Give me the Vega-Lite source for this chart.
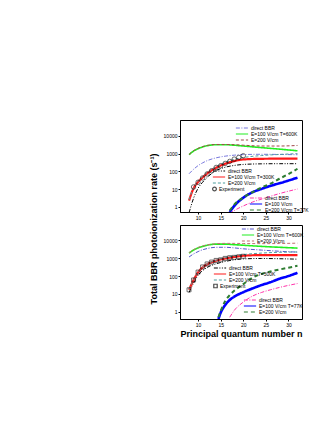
{
  "$schema": "https://vega.github.io/schema/vega-lite/v6.json",
  "padding": {"left": 149, "top": 119, "right": 0, "bottom": 0},
  "title": {"text": "Total BBR photoionization rate (s⁻¹)", "orient": "left", "anchor": "middle", "fontSize": 9, "fontWeight": "bold", "font": "Liberation Sans", "offset": 4, "color": "black"},
  "config": {
    "font": "Liberation Sans",
    "view": {"stroke": "black", "strokeWidth": 1},
    "axis": {"labelFontSize": 5, "tickSize": 2, "labelPadding": 1, "domainColor": "black", "tickColor": "black", "labelColor": "black", "grid": false, "titleFontSize": 9, "titleFontWeight": "bold", "titleColor": "black", "titlePadding": 2},
    "legend": {"labelFontSize": 5, "rowPadding": 0, "padding": 0, "symbolSize": 150, "clipHeight": 6, "labelOffset": 2, "labelLimit": 200, "labelColor": "black", "symbolStrokeWidth": 1.2}
  },
  "datasets": {
    "curves": [
      {"panel": "a", "grp": "600K", "label": "direct BBR", "n": 8, "rate": 73},
      {"panel": "a", "grp": "600K", "label": "direct BBR", "n": 9, "rate": 130},
      {"panel": "a", "grp": "600K", "label": "direct BBR", "n": 10, "rate": 210},
      {"panel": "a", "grp": "600K", "label": "direct BBR", "n": 11, "rate": 300},
      {"panel": "a", "grp": "600K", "label": "direct BBR", "n": 12, "rate": 400},
      {"panel": "a", "grp": "600K", "label": "direct BBR", "n": 14, "rate": 580},
      {"panel": "a", "grp": "600K", "label": "direct BBR", "n": 16, "rate": 720},
      {"panel": "a", "grp": "600K", "label": "direct BBR", "n": 18, "rate": 820},
      {"panel": "a", "grp": "600K", "label": "direct BBR", "n": 20, "rate": 880},
      {"panel": "a", "grp": "600K", "label": "direct BBR", "n": 24, "rate": 920},
      {"panel": "a", "grp": "600K", "label": "direct BBR", "n": 28, "rate": 900},
      {"panel": "a", "grp": "600K", "label": "direct BBR", "n": 32, "rate": 870},
      {"panel": "a", "grp": "600K", "label": "E=100 V/cm T=600K", "n": 8, "rate": 870},
      {"panel": "a", "grp": "600K", "label": "E=100 V/cm T=600K", "n": 9, "rate": 1400},
      {"panel": "a", "grp": "600K", "label": "E=100 V/cm T=600K", "n": 10, "rate": 1900},
      {"panel": "a", "grp": "600K", "label": "E=100 V/cm T=600K", "n": 11, "rate": 2400},
      {"panel": "a", "grp": "600K", "label": "E=100 V/cm T=600K", "n": 12, "rate": 2800},
      {"panel": "a", "grp": "600K", "label": "E=100 V/cm T=600K", "n": 14, "rate": 3200},
      {"panel": "a", "grp": "600K", "label": "E=100 V/cm T=600K", "n": 16, "rate": 3200},
      {"panel": "a", "grp": "600K", "label": "E=100 V/cm T=600K", "n": 18, "rate": 3000},
      {"panel": "a", "grp": "600K", "label": "E=100 V/cm T=600K", "n": 20, "rate": 2700},
      {"panel": "a", "grp": "600K", "label": "E=100 V/cm T=600K", "n": 24, "rate": 2200},
      {"panel": "a", "grp": "600K", "label": "E=100 V/cm T=600K", "n": 28, "rate": 1800},
      {"panel": "a", "grp": "600K", "label": "E=100 V/cm T=600K", "n": 32, "rate": 1450},
      {"panel": "a", "grp": "600K", "label": "E=200 V/cm", "n": 8, "rate": 900},
      {"panel": "a", "grp": "600K", "label": "E=200 V/cm", "n": 9, "rate": 1450},
      {"panel": "a", "grp": "600K", "label": "E=200 V/cm", "n": 10, "rate": 2000},
      {"panel": "a", "grp": "600K", "label": "E=200 V/cm", "n": 11, "rate": 2500},
      {"panel": "a", "grp": "600K", "label": "E=200 V/cm", "n": 12, "rate": 2900},
      {"panel": "a", "grp": "600K", "label": "E=200 V/cm", "n": 14, "rate": 3300},
      {"panel": "a", "grp": "600K", "label": "E=200 V/cm", "n": 16, "rate": 3300},
      {"panel": "a", "grp": "600K", "label": "E=200 V/cm", "n": 18, "rate": 3200},
      {"panel": "a", "grp": "600K", "label": "E=200 V/cm", "n": 20, "rate": 3000},
      {"panel": "a", "grp": "600K", "label": "E=200 V/cm", "n": 24, "rate": 2700},
      {"panel": "a", "grp": "600K", "label": "E=200 V/cm", "n": 28, "rate": 2700},
      {"panel": "a", "grp": "600K", "label": "E=200 V/cm", "n": 32, "rate": 2900},

      {"panel": "a", "grp": "300K", "label": "direct BBR", "n": 8, "rate": 0.45},
      {"panel": "a", "grp": "300K", "label": "direct BBR", "n": 9, "rate": 3},
      {"panel": "a", "grp": "300K", "label": "direct BBR", "n": 10, "rate": 11},
      {"panel": "a", "grp": "300K", "label": "direct BBR", "n": 11, "rate": 24},
      {"panel": "a", "grp": "300K", "label": "direct BBR", "n": 12, "rate": 45},
      {"panel": "a", "grp": "300K", "label": "direct BBR", "n": 14, "rate": 110},
      {"panel": "a", "grp": "300K", "label": "direct BBR", "n": 16, "rate": 170},
      {"panel": "a", "grp": "300K", "label": "direct BBR", "n": 18, "rate": 215},
      {"panel": "a", "grp": "300K", "label": "direct BBR", "n": 20, "rate": 245},
      {"panel": "a", "grp": "300K", "label": "direct BBR", "n": 24, "rate": 265},
      {"panel": "a", "grp": "300K", "label": "direct BBR", "n": 28, "rate": 270},
      {"panel": "a", "grp": "300K", "label": "direct BBR", "n": 32, "rate": 270},
      {"panel": "a", "grp": "300K", "label": "E=100 V/cm T=300K", "n": 8, "rate": 2.2},
      {"panel": "a", "grp": "300K", "label": "E=100 V/cm T=300K", "n": 9, "rate": 11},
      {"panel": "a", "grp": "300K", "label": "E=100 V/cm T=300K", "n": 10, "rate": 25},
      {"panel": "a", "grp": "300K", "label": "E=100 V/cm T=300K", "n": 11, "rate": 45},
      {"panel": "a", "grp": "300K", "label": "E=100 V/cm T=300K", "n": 12, "rate": 75},
      {"panel": "a", "grp": "300K", "label": "E=100 V/cm T=300K", "n": 14, "rate": 160},
      {"panel": "a", "grp": "300K", "label": "E=100 V/cm T=300K", "n": 16, "rate": 270},
      {"panel": "a", "grp": "300K", "label": "E=100 V/cm T=300K", "n": 18, "rate": 380},
      {"panel": "a", "grp": "300K", "label": "E=100 V/cm T=300K", "n": 20, "rate": 470},
      {"panel": "a", "grp": "300K", "label": "E=100 V/cm T=300K", "n": 24, "rate": 510},
      {"panel": "a", "grp": "300K", "label": "E=100 V/cm T=300K", "n": 28, "rate": 520},
      {"panel": "a", "grp": "300K", "label": "E=100 V/cm T=300K", "n": 32, "rate": 520},
      {"panel": "a", "grp": "300K", "label": "E=200 V/cm", "n": 8, "rate": 2.5},
      {"panel": "a", "grp": "300K", "label": "E=200 V/cm", "n": 9, "rate": 12},
      {"panel": "a", "grp": "300K", "label": "E=200 V/cm", "n": 10, "rate": 27},
      {"panel": "a", "grp": "300K", "label": "E=200 V/cm", "n": 11, "rate": 50},
      {"panel": "a", "grp": "300K", "label": "E=200 V/cm", "n": 12, "rate": 85},
      {"panel": "a", "grp": "300K", "label": "E=200 V/cm", "n": 14, "rate": 180},
      {"panel": "a", "grp": "300K", "label": "E=200 V/cm", "n": 16, "rate": 320},
      {"panel": "a", "grp": "300K", "label": "E=200 V/cm", "n": 18, "rate": 470},
      {"panel": "a", "grp": "300K", "label": "E=200 V/cm", "n": 20, "rate": 600},
      {"panel": "a", "grp": "300K", "label": "E=200 V/cm", "n": 24, "rate": 780},
      {"panel": "a", "grp": "300K", "label": "E=200 V/cm", "n": 28, "rate": 900},
      {"panel": "a", "grp": "300K", "label": "E=200 V/cm", "n": 32, "rate": 1000},

      {"panel": "a", "grp": "77K", "label": "direct BBR", "n": 17, "rate": 0.4},
      {"panel": "a", "grp": "77K", "label": "direct BBR", "n": 18, "rate": 0.6},
      {"panel": "a", "grp": "77K", "label": "direct BBR", "n": 20, "rate": 1.1},
      {"panel": "a", "grp": "77K", "label": "direct BBR", "n": 22, "rate": 1.8},
      {"panel": "a", "grp": "77K", "label": "direct BBR", "n": 25, "rate": 3.2},
      {"panel": "a", "grp": "77K", "label": "direct BBR", "n": 28, "rate": 5.5},
      {"panel": "a", "grp": "77K", "label": "direct BBR", "n": 32, "rate": 10},
      {"panel": "a", "grp": "77K", "label": "E=100 V/cm", "n": 17, "rate": 0.5},
      {"panel": "a", "grp": "77K", "label": "E=100 V/cm", "n": 18, "rate": 1.1},
      {"panel": "a", "grp": "77K", "label": "E=100 V/cm", "n": 20, "rate": 3.2},
      {"panel": "a", "grp": "77K", "label": "E=100 V/cm", "n": 22, "rate": 6.5},
      {"panel": "a", "grp": "77K", "label": "E=100 V/cm", "n": 24, "rate": 10},
      {"panel": "a", "grp": "77K", "label": "E=100 V/cm", "n": 26, "rate": 15},
      {"panel": "a", "grp": "77K", "label": "E=100 V/cm", "n": 28, "rate": 21},
      {"panel": "a", "grp": "77K", "label": "E=100 V/cm", "n": 30, "rate": 30},
      {"panel": "a", "grp": "77K", "label": "E=100 V/cm", "n": 32, "rate": 44},
      {"panel": "a", "grp": "77K", "label": "E=200 V/cm T=77K", "n": 17, "rate": 0.6},
      {"panel": "a", "grp": "77K", "label": "E=200 V/cm T=77K", "n": 18, "rate": 1.3},
      {"panel": "a", "grp": "77K", "label": "E=200 V/cm T=77K", "n": 20, "rate": 3.3},
      {"panel": "a", "grp": "77K", "label": "E=200 V/cm T=77K", "n": 22, "rate": 6.5},
      {"panel": "a", "grp": "77K", "label": "E=200 V/cm T=77K", "n": 24, "rate": 12},
      {"panel": "a", "grp": "77K", "label": "E=200 V/cm T=77K", "n": 26, "rate": 20},
      {"panel": "a", "grp": "77K", "label": "E=200 V/cm T=77K", "n": 28, "rate": 38},
      {"panel": "a", "grp": "77K", "label": "E=200 V/cm T=77K", "n": 30, "rate": 70},
      {"panel": "a", "grp": "77K", "label": "E=200 V/cm T=77K", "n": 32, "rate": 140},

      {"panel": "b", "grp": "600K", "label": "direct BBR", "n": 8, "rate": 1150},
      {"panel": "b", "grp": "600K", "label": "direct BBR", "n": 9, "rate": 1700},
      {"panel": "b", "grp": "600K", "label": "direct BBR", "n": 10, "rate": 2300},
      {"panel": "b", "grp": "600K", "label": "direct BBR", "n": 11, "rate": 2900},
      {"panel": "b", "grp": "600K", "label": "direct BBR", "n": 12, "rate": 3400},
      {"panel": "b", "grp": "600K", "label": "direct BBR", "n": 14, "rate": 4000},
      {"panel": "b", "grp": "600K", "label": "direct BBR", "n": 16, "rate": 4000},
      {"panel": "b", "grp": "600K", "label": "direct BBR", "n": 18, "rate": 3700},
      {"panel": "b", "grp": "600K", "label": "direct BBR", "n": 20, "rate": 3300},
      {"panel": "b", "grp": "600K", "label": "direct BBR", "n": 24, "rate": 2800},
      {"panel": "b", "grp": "600K", "label": "direct BBR", "n": 28, "rate": 2400},
      {"panel": "b", "grp": "600K", "label": "direct BBR", "n": 32, "rate": 2150},
      {"panel": "b", "grp": "600K", "label": "E=100 V/cm T=600K", "n": 8, "rate": 1900},
      {"panel": "b", "grp": "600K", "label": "E=100 V/cm T=600K", "n": 9, "rate": 2800},
      {"panel": "b", "grp": "600K", "label": "E=100 V/cm T=600K", "n": 10, "rate": 3700},
      {"panel": "b", "grp": "600K", "label": "E=100 V/cm T=600K", "n": 11, "rate": 4500},
      {"panel": "b", "grp": "600K", "label": "E=100 V/cm T=600K", "n": 12, "rate": 5200},
      {"panel": "b", "grp": "600K", "label": "E=100 V/cm T=600K", "n": 14, "rate": 6000},
      {"panel": "b", "grp": "600K", "label": "E=100 V/cm T=600K", "n": 16, "rate": 6000},
      {"panel": "b", "grp": "600K", "label": "E=100 V/cm T=600K", "n": 18, "rate": 5600},
      {"panel": "b", "grp": "600K", "label": "E=100 V/cm T=600K", "n": 20, "rate": 5200},
      {"panel": "b", "grp": "600K", "label": "E=100 V/cm T=600K", "n": 24, "rate": 4500},
      {"panel": "b", "grp": "600K", "label": "E=100 V/cm T=600K", "n": 28, "rate": 4000},
      {"panel": "b", "grp": "600K", "label": "E=100 V/cm T=600K", "n": 32, "rate": 3600},
      {"panel": "b", "grp": "600K", "label": "E=200 V/cm", "n": 8, "rate": 2000},
      {"panel": "b", "grp": "600K", "label": "E=200 V/cm", "n": 9, "rate": 2900},
      {"panel": "b", "grp": "600K", "label": "E=200 V/cm", "n": 10, "rate": 3900},
      {"panel": "b", "grp": "600K", "label": "E=200 V/cm", "n": 11, "rate": 4700},
      {"panel": "b", "grp": "600K", "label": "E=200 V/cm", "n": 12, "rate": 5400},
      {"panel": "b", "grp": "600K", "label": "E=200 V/cm", "n": 14, "rate": 6300},
      {"panel": "b", "grp": "600K", "label": "E=200 V/cm", "n": 16, "rate": 6600},
      {"panel": "b", "grp": "600K", "label": "E=200 V/cm", "n": 18, "rate": 6600},
      {"panel": "b", "grp": "600K", "label": "E=200 V/cm", "n": 20, "rate": 6500},
      {"panel": "b", "grp": "600K", "label": "E=200 V/cm", "n": 24, "rate": 6400},
      {"panel": "b", "grp": "600K", "label": "E=200 V/cm", "n": 28, "rate": 6500},
      {"panel": "b", "grp": "600K", "label": "E=200 V/cm", "n": 32, "rate": 6800},

      {"panel": "b", "grp": "300K", "label": "direct BBR", "n": 8, "rate": 12},
      {"panel": "b", "grp": "300K", "label": "direct BBR", "n": 9, "rate": 40},
      {"panel": "b", "grp": "300K", "label": "direct BBR", "n": 10, "rate": 110},
      {"panel": "b", "grp": "300K", "label": "direct BBR", "n": 11, "rate": 200},
      {"panel": "b", "grp": "300K", "label": "direct BBR", "n": 12, "rate": 300},
      {"panel": "b", "grp": "300K", "label": "direct BBR", "n": 14, "rate": 480},
      {"panel": "b", "grp": "300K", "label": "direct BBR", "n": 16, "rate": 650},
      {"panel": "b", "grp": "300K", "label": "direct BBR", "n": 18, "rate": 800},
      {"panel": "b", "grp": "300K", "label": "direct BBR", "n": 20, "rate": 900},
      {"panel": "b", "grp": "300K", "label": "direct BBR", "n": 24, "rate": 950},
      {"panel": "b", "grp": "300K", "label": "direct BBR", "n": 28, "rate": 920},
      {"panel": "b", "grp": "300K", "label": "direct BBR", "n": 32, "rate": 870},
      {"panel": "b", "grp": "300K", "label": "E=100 V/cm T=300K", "n": 8, "rate": 17},
      {"panel": "b", "grp": "300K", "label": "E=100 V/cm T=300K", "n": 9, "rate": 60},
      {"panel": "b", "grp": "300K", "label": "E=100 V/cm T=300K", "n": 10, "rate": 160},
      {"panel": "b", "grp": "300K", "label": "E=100 V/cm T=300K", "n": 11, "rate": 300},
      {"panel": "b", "grp": "300K", "label": "E=100 V/cm T=300K", "n": 12, "rate": 450},
      {"panel": "b", "grp": "300K", "label": "E=100 V/cm T=300K", "n": 14, "rate": 720},
      {"panel": "b", "grp": "300K", "label": "E=100 V/cm T=300K", "n": 16, "rate": 950},
      {"panel": "b", "grp": "300K", "label": "E=100 V/cm T=300K", "n": 18, "rate": 1150},
      {"panel": "b", "grp": "300K", "label": "E=100 V/cm T=300K", "n": 20, "rate": 1350},
      {"panel": "b", "grp": "300K", "label": "E=100 V/cm T=300K", "n": 24, "rate": 1470},
      {"panel": "b", "grp": "300K", "label": "E=100 V/cm T=300K", "n": 28, "rate": 1480},
      {"panel": "b", "grp": "300K", "label": "E=100 V/cm T=300K", "n": 32, "rate": 1480},
      {"panel": "b", "grp": "300K", "label": "E=200 V/cm", "n": 8, "rate": 18},
      {"panel": "b", "grp": "300K", "label": "E=200 V/cm", "n": 9, "rate": 62},
      {"panel": "b", "grp": "300K", "label": "E=200 V/cm", "n": 10, "rate": 165},
      {"panel": "b", "grp": "300K", "label": "E=200 V/cm", "n": 11, "rate": 310},
      {"panel": "b", "grp": "300K", "label": "E=200 V/cm", "n": 12, "rate": 470},
      {"panel": "b", "grp": "300K", "label": "E=200 V/cm", "n": 14, "rate": 760},
      {"panel": "b", "grp": "300K", "label": "E=200 V/cm", "n": 16, "rate": 1050},
      {"panel": "b", "grp": "300K", "label": "E=200 V/cm", "n": 18, "rate": 1300},
      {"panel": "b", "grp": "300K", "label": "E=200 V/cm", "n": 20, "rate": 1550},
      {"panel": "b", "grp": "300K", "label": "E=200 V/cm", "n": 24, "rate": 1900},
      {"panel": "b", "grp": "300K", "label": "E=200 V/cm", "n": 28, "rate": 2100},
      {"panel": "b", "grp": "300K", "label": "E=200 V/cm", "n": 32, "rate": 2200},

      {"panel": "b", "grp": "77K", "label": "direct BBR", "n": 17, "rate": 0.5},
      {"panel": "b", "grp": "77K", "label": "direct BBR", "n": 18, "rate": 1.2},
      {"panel": "b", "grp": "77K", "label": "direct BBR", "n": 20, "rate": 3.5},
      {"panel": "b", "grp": "77K", "label": "direct BBR", "n": 22, "rate": 7.5},
      {"panel": "b", "grp": "77K", "label": "direct BBR", "n": 24, "rate": 12},
      {"panel": "b", "grp": "77K", "label": "direct BBR", "n": 26, "rate": 17},
      {"panel": "b", "grp": "77K", "label": "direct BBR", "n": 28, "rate": 23},
      {"panel": "b", "grp": "77K", "label": "direct BBR", "n": 30, "rate": 30},
      {"panel": "b", "grp": "77K", "label": "direct BBR", "n": 32, "rate": 38},
      {"panel": "b", "grp": "77K", "label": "E=100 V/cm T=77K", "n": 14.5, "rate": 0.4},
      {"panel": "b", "grp": "77K", "label": "E=100 V/cm T=77K", "n": 15, "rate": 0.9},
      {"panel": "b", "grp": "77K", "label": "E=100 V/cm T=77K", "n": 16, "rate": 2.4},
      {"panel": "b", "grp": "77K", "label": "E=100 V/cm T=77K", "n": 17, "rate": 4.6},
      {"panel": "b", "grp": "77K", "label": "E=100 V/cm T=77K", "n": 18, "rate": 7},
      {"panel": "b", "grp": "77K", "label": "E=100 V/cm T=77K", "n": 20, "rate": 12.5},
      {"panel": "b", "grp": "77K", "label": "E=100 V/cm T=77K", "n": 22, "rate": 20},
      {"panel": "b", "grp": "77K", "label": "E=100 V/cm T=77K", "n": 24, "rate": 31},
      {"panel": "b", "grp": "77K", "label": "E=100 V/cm T=77K", "n": 26, "rate": 45},
      {"panel": "b", "grp": "77K", "label": "E=100 V/cm T=77K", "n": 28, "rate": 70},
      {"panel": "b", "grp": "77K", "label": "E=100 V/cm T=77K", "n": 30, "rate": 100},
      {"panel": "b", "grp": "77K", "label": "E=100 V/cm T=77K", "n": 32, "rate": 150},
      {"panel": "b", "grp": "77K", "label": "E=200 V/cm", "n": 14.5, "rate": 0.5},
      {"panel": "b", "grp": "77K", "label": "E=200 V/cm", "n": 15, "rate": 1.1},
      {"panel": "b", "grp": "77K", "label": "E=200 V/cm", "n": 16, "rate": 4},
      {"panel": "b", "grp": "77K", "label": "E=200 V/cm", "n": 17, "rate": 8.5},
      {"panel": "b", "grp": "77K", "label": "E=200 V/cm", "n": 18, "rate": 15},
      {"panel": "b", "grp": "77K", "label": "E=200 V/cm", "n": 20, "rate": 35},
      {"panel": "b", "grp": "77K", "label": "E=200 V/cm", "n": 22, "rate": 80},
      {"panel": "b", "grp": "77K", "label": "E=200 V/cm", "n": 24, "rate": 130},
      {"panel": "b", "grp": "77K", "label": "E=200 V/cm", "n": 26, "rate": 180},
      {"panel": "b", "grp": "77K", "label": "E=200 V/cm", "n": 28, "rate": 230},
      {"panel": "b", "grp": "77K", "label": "E=200 V/cm", "n": 30, "rate": 290},
      {"panel": "b", "grp": "77K", "label": "E=200 V/cm", "n": 32, "rate": 370}
    ],
    "exp": [
      {"panel": "a", "label": "Experiment", "n": 9, "rate": 13},
      {"panel": "a", "label": "Experiment", "n": 10, "rate": 24},
      {"panel": "a", "label": "Experiment", "n": 11, "rate": 42},
      {"panel": "a", "label": "Experiment", "n": 12, "rate": 71},
      {"panel": "a", "label": "Experiment", "n": 13, "rate": 108},
      {"panel": "a", "label": "Experiment", "n": 14, "rate": 166},
      {"panel": "a", "label": "Experiment", "n": 15, "rate": 208},
      {"panel": "a", "label": "Experiment", "n": 16, "rate": 280},
      {"panel": "a", "label": "Experiment", "n": 17, "rate": 365},
      {"panel": "a", "label": "Experiment", "n": 18, "rate": 490},
      {"panel": "a", "label": "Experiment", "n": 19, "rate": 610},
      {"panel": "a", "label": "Experiment", "n": 20, "rate": 760},
      {"panel": "b", "label": "Experiment", "n": 8, "rate": 17},
      {"panel": "b", "label": "Experiment", "n": 9, "rate": 60},
      {"panel": "b", "label": "Experiment", "n": 10, "rate": 165},
      {"panel": "b", "label": "Experiment", "n": 11, "rate": 320},
      {"panel": "b", "label": "Experiment", "n": 12, "rate": 470},
      {"panel": "b", "label": "Experiment", "n": 13, "rate": 600},
      {"panel": "b", "label": "Experiment", "n": 14, "rate": 740},
      {"panel": "b", "label": "Experiment", "n": 15, "rate": 800},
      {"panel": "b", "label": "Experiment", "n": 16, "rate": 960},
      {"panel": "b", "label": "Experiment", "n": 17, "rate": 1050},
      {"panel": "b", "label": "Experiment", "n": 18, "rate": 1100},
      {"panel": "b", "label": "Experiment", "n": 19, "rate": 1180},
      {"panel": "b", "label": "Experiment", "n": 20, "rate": 1260}
    ]
  },
  "spacing": 3,
  "resolve": {"scale": {"color": "independent", "strokeDash": "independent", "shape": "independent"}},
  "vconcat": [
    {
      "width": 122, "height": 92,
      "encoding": {
        "x": {"field": "n", "type": "quantitative", "scale": {"domain": [6, 33], "nice": false}, "axis": {"title": null, "values": [10, 15, 20, 25, 30]}},
        "y": {"field": "rate", "type": "quantitative", "scale": {"type": "log", "domain": [0.5, 80000], "nice": false}, "axis": {"title": null, "values": [1, 10, 100, 1000, 10000], "format": "d"}}
      },
      "layer": [
        {
          "data": {"name": "curves"},
          "transform": [{"filter": "datum.panel === 'a' && datum.grp === '600K'"}],
          "mark": {"type": "line", "interpolate": "monotone", "clip": true},
          "encoding": {
            "color": {"field": "label", "type": "nominal", "scale": {"domain": ["direct BBR", "E=100 V/cm T=600K", "E=200 V/cm"], "range": ["#7777dd", "#22ee22", "#a04848"]}, "legend": {"title": null, "orient": "none", "legendX": 55, "legendY": 5}},
            "strokeDash": {"field": "label", "type": "nominal", "scale": {"domain": ["direct BBR", "E=100 V/cm T=600K", "E=200 V/cm"], "range": [[4, 1.5, 1, 1.5], [1, 0], [3, 2]]}, "legend": {"title": null, "orient": "none", "legendX": 55, "legendY": 5}},
            "strokeWidth": {"condition": {"test": "datum.label === 'E=100 V/cm T=600K'", "value": 1.6}, "value": 1}
          }
        },
        {
          "data": {"name": "curves"},
          "transform": [{"filter": "datum.panel === 'a' && datum.grp === '300K'"}],
          "mark": {"type": "line", "interpolate": "monotone", "clip": true},
          "encoding": {
            "color": {"field": "label", "type": "nominal", "scale": {"domain": ["direct BBR", "E=100 V/cm T=300K", "E=200 V/cm"], "range": ["#000000", "#ff1a1a", "#4f9e9e"]}, "legend": {"title": null, "orient": "none", "legendX": 32, "legendY": 48}},
            "strokeDash": {"field": "label", "type": "nominal", "scale": {"domain": ["direct BBR", "E=100 V/cm T=300K", "E=200 V/cm"], "range": [[4, 1.5, 1, 1.5, 1, 1.5], [1, 0], [3, 2]]}, "legend": {"title": null, "orient": "none", "legendX": 32, "legendY": 48}},
            "strokeWidth": {"condition": {"test": "datum.label === 'E=100 V/cm T=300K'", "value": 2.2}, "value": 1}
          }
        },
        {
          "data": {"name": "curves"},
          "transform": [{"filter": "datum.panel === 'a' && datum.grp === '77K'"}],
          "mark": {"type": "line", "interpolate": "monotone", "clip": true},
          "encoding": {
            "color": {"field": "label", "type": "nominal", "scale": {"domain": ["direct BBR", "E=100 V/cm", "E=200 V/cm T=77K"], "range": ["#ff33aa", "#0000ff", "#2e7d32"]}, "legend": {"title": null, "orient": "none", "legendX": 69, "legendY": 75}},
            "strokeDash": {"field": "label", "type": "nominal", "scale": {"domain": ["direct BBR", "E=100 V/cm", "E=200 V/cm T=77K"], "range": [[4, 1.5, 1, 1.5], [1, 0], [4, 3]]}, "legend": {"title": null, "orient": "none", "legendX": 69, "legendY": 75}},
            "strokeWidth": {"condition": {"test": "datum.label === 'E=100 V/cm'", "value": 2.6}, "value": {"expr": "datum.label === 'direct BBR' ? 1 : 2"}}
          }
        },
        {
          "data": {"name": "exp"},
          "transform": [{"filter": "datum.panel === 'a'"}],
          "mark": {"type": "point", "filled": false, "color": "black", "size": 20, "strokeWidth": 0.8},
          "encoding": {
            "shape": {"field": "label", "type": "nominal", "scale": {"domain": ["Experiment"], "range": ["circle"]}, "legend": {"title": null, "orient": "none", "legendX": 32, "legendY": 66, "symbolSize": 14}}
          }
        },
        {
          "data": {"values": [{"t": "(a)"}]},
          "mark": {"type": "text", "align": "left", "baseline": "middle", "fontSize": 8, "fontWeight": "bold"},
          "encoding": {"x": {"datum": 7.6}, "y": {"datum": 55000}, "text": {"field": "t"}}
        },
        {
          "data": {"values": [{"t": "Na (nS)"}]},
          "mark": {"type": "text", "align": "left", "baseline": "middle", "fontSize": 8, "fontWeight": "bold"},
          "encoding": {"x": {"datum": 10.6}, "y": {"datum": 1.1}, "text": {"field": "t"}}
        }
      ],
      "resolve": {"scale": {"color": "independent", "strokeDash": "independent", "shape": "independent"}}
    },
    {
      "width": 122, "height": 94,
      "encoding": {
        "x": {"field": "n", "type": "quantitative", "scale": {"domain": [6, 33], "nice": false}, "axis": {"title": "Principal quantum number n", "values": [10, 15, 20, 25, 30]}},
        "y": {"field": "rate", "type": "quantitative", "scale": {"type": "log", "domain": [0.4, 70000], "nice": false}, "axis": {"title": null, "values": [1, 10, 100, 1000, 10000], "format": "d"}}
      },
      "layer": [
        {
          "data": {"name": "curves"},
          "transform": [{"filter": "datum.panel === 'b' && datum.grp === '600K'"}],
          "mark": {"type": "line", "interpolate": "monotone", "clip": true},
          "encoding": {
            "color": {"field": "label", "type": "nominal", "scale": {"domain": ["direct BBR", "E=100 V/cm T=600K", "E=200 V/cm"], "range": ["#5555cc", "#22ee22", "#c07070"]}, "legend": {"title": null, "orient": "none", "legendX": 61, "legendY": 1}},
            "strokeDash": {"field": "label", "type": "nominal", "scale": {"domain": ["direct BBR", "E=100 V/cm T=600K", "E=200 V/cm"], "range": [[4, 1.5, 1, 1.5], [1, 0], [3, 2]]}, "legend": {"title": null, "orient": "none", "legendX": 61, "legendY": 1}},
            "strokeWidth": {"condition": {"test": "datum.label === 'E=100 V/cm T=600K'", "value": 1.6}, "value": 1}
          }
        },
        {
          "data": {"name": "curves"},
          "transform": [{"filter": "datum.panel === 'b' && datum.grp === '300K'"}],
          "mark": {"type": "line", "interpolate": "monotone", "clip": true},
          "encoding": {
            "color": {"field": "label", "type": "nominal", "scale": {"domain": ["direct BBR", "E=100 V/cm T=300K", "E=200 V/cm"], "range": ["#000000", "#ff1a1a", "#4f9e9e"]}, "legend": {"title": null, "orient": "none", "legendX": 33, "legendY": 40}},
            "strokeDash": {"field": "label", "type": "nominal", "scale": {"domain": ["direct BBR", "E=100 V/cm T=300K", "E=200 V/cm"], "range": [[4, 1.5, 1, 1.5, 1, 1.5], [1, 0], [3, 2]]}, "legend": {"title": null, "orient": "none", "legendX": 33, "legendY": 40}},
            "strokeWidth": {"condition": {"test": "datum.label === 'E=100 V/cm T=300K'", "value": 2.2}, "value": 1}
          }
        },
        {
          "data": {"name": "curves"},
          "transform": [{"filter": "datum.panel === 'b' && datum.grp === '77K'"}],
          "mark": {"type": "line", "interpolate": "monotone", "clip": true},
          "encoding": {
            "color": {"field": "label", "type": "nominal", "scale": {"domain": ["direct BBR", "E=100 V/cm T=77K", "E=200 V/cm"], "range": ["#ff33aa", "#0000ff", "#2e7d32"]}, "legend": {"title": null, "orient": "none", "legendX": 63, "legendY": 72}},
            "strokeDash": {"field": "label", "type": "nominal", "scale": {"domain": ["direct BBR", "E=100 V/cm T=77K", "E=200 V/cm"], "range": [[4, 1.5, 1, 1.5], [1, 0], [4, 3]]}, "legend": {"title": null, "orient": "none", "legendX": 63, "legendY": 72}},
            "strokeWidth": {"condition": {"test": "datum.label === 'E=100 V/cm T=77K'", "value": 2.6}, "value": {"expr": "datum.label === 'direct BBR' ? 1 : 2"}}
          }
        },
        {
          "data": {"name": "exp"},
          "transform": [{"filter": "datum.panel === 'b'"}],
          "mark": {"type": "point", "filled": false, "color": "black", "size": 16, "strokeWidth": 0.8},
          "encoding": {
            "shape": {"field": "label", "type": "nominal", "scale": {"domain": ["Experiment"], "range": ["square"]}, "legend": {"title": null, "orient": "none", "legendX": 33, "legendY": 58, "symbolSize": 12}}
          }
        },
        {
          "data": {"values": [{"t": "(b)"}]},
          "mark": {"type": "text", "align": "left", "baseline": "middle", "fontSize": 8, "fontWeight": "bold"},
          "encoding": {"x": {"datum": 7.6}, "y": {"datum": 22000}, "text": {"field": "t"}}
        },
        {
          "data": {"values": [{"t": "Na (nD)"}]},
          "mark": {"type": "text", "align": "left", "baseline": "middle", "fontSize": 8, "fontWeight": "bold"},
          "encoding": {"x": {"datum": 10.2}, "y": {"datum": 1.9}, "text": {"field": "t"}}
        }
      ],
      "resolve": {"scale": {"color": "independent", "strokeDash": "independent", "shape": "independent"}}
    }
  ]
}
